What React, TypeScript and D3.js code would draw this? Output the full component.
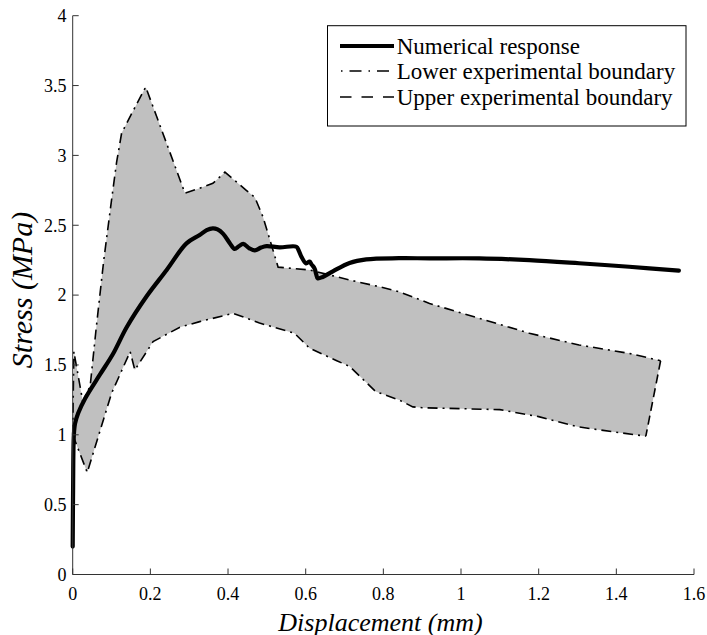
import React from "react";
import * as d3 from "d3";

// Numerical response (displacement mm, stress MPa)
const numX = [0, 0.001, 0.003, 0.006, 0.014, 0.032, 0.07, 0.104, 0.139, 0.19, 0.242, 0.293, 0.327, 0.345, 0.361, 0.373, 0.387, 0.405, 0.417, 0.428, 0.439, 0.455, 0.469, 0.485, 0.499, 0.533, 0.576, 0.582, 0.589, 0.601, 0.61, 0.615, 0.623, 0.627, 0.631, 0.644, 0.67, 0.713, 0.756, 0.84, 0.919, 1.047, 1.176, 1.304, 1.433, 1.561];
const numY = [0.2, 0.6, 1.0, 1.08, 1.154, 1.26, 1.43, 1.58, 1.77, 1.99, 2.18, 2.37, 2.43, 2.465, 2.478, 2.47, 2.44, 2.37, 2.33, 2.35, 2.366, 2.335, 2.32, 2.34, 2.35, 2.342, 2.346, 2.32, 2.275, 2.227, 2.24, 2.22, 2.19, 2.15, 2.12, 2.13, 2.17, 2.23, 2.256, 2.264, 2.263, 2.263, 2.25, 2.228, 2.203, 2.175];

// Upper experimental boundary
const upX = [0, 0.003, 0.026, 0.045, 0.06, 0.08, 0.1, 0.113, 0.126, 0.152, 0.188, 0.216, 0.289, 0.327, 0.361, 0.392, 0.447, 0.469, 0.49, 0.529, 0.61, 0.713, 0.79, 0.841, 0.919, 1.047, 1.176, 1.304, 1.433, 1.514];
const upY = [1.0, 1.595, 1.237, 1.35, 1.75, 2.25, 2.68, 2.95, 3.16, 3.3, 3.49, 3.28, 2.73, 2.765, 2.8, 2.88, 2.75, 2.7, 2.56, 2.2, 2.18, 2.108, 2.06, 2.024, 1.94, 1.834, 1.727, 1.643, 1.583, 1.53];

// Lower experimental boundary
const loX = [0, 0.0375, 0.1, 0.148, 0.16, 0.207, 0.276, 0.327, 0.413, 0.481, 0.571, 0.61, 0.68, 0.713, 0.78, 0.841, 0.876, 0.9, 1.1, 1.2, 1.3, 1.39, 1.476];
const loY = [1.0, 0.73, 1.297, 1.595, 1.464, 1.667, 1.77, 1.81, 1.87, 1.8, 1.727, 1.62, 1.53, 1.49, 1.31, 1.249, 1.2, 1.194, 1.18, 1.13, 1.058, 1.022, 0.99];

const xTicks = [0, 0.2, 0.4, 0.6, 0.8, 1, 1.2, 1.4, 1.6];
const yTicks = [0, 0.5, 1, 1.5, 2, 2.5, 3, 3.5, 4];
const legendLabels = ["Numerical response", "Lower experimental boundary", "Upper experimental boundary"];

const FONT = "'Liberation Serif', 'Times New Roman', serif";

export default function App() {
  const W = 707, H = 635;
  const x = d3.scaleLinear().domain([0, 1.6]).range([72.7, 694]);
  const y = d3.scaleLinear().domain([0, 4]).range([574.5, 15.7]);

  const num = numX.map((v, i) => [v, numY[i]] as [number, number]);
  const up = upX.map((v, i) => [v, upY[i]] as [number, number]);
  const lo = loX.map((v, i) => [v, loY[i]] as [number, number]);
  const poly = [...up, ...lo.slice().reverse()];

  const line = d3.line<[number, number]>().x(d => x(d[0])).y(d => y(d[1]));
  const smooth = d3.line<[number, number]>().x(d => x(d[0])).y(d => y(d[1])).curve(d3.curveCatmullRom.alpha(0.5));

  const dashDot = "10,5,2,5";
  const axisColor = "#333";

  const lx = 327.5, ly = 25.7, lw = 358.5, lh = 100.3;
  const rows = [46, 71, 97];
  const bases = [53.5, 79, 104.5];

  return (
    <svg width={W} height={H} style={{ position: "absolute", left: 0, top: 0, background: "#fff" }}>
      <rect x={0} y={0} width={W} height={H} fill="#fff" />
      {/* band */}
      <path d={line(poly) + "Z"} fill="#c0c0c0" stroke="none" />
      <path d={line(up) || ""} fill="none" stroke="#000" strokeWidth={1.6} strokeDasharray={dashDot} />
      <path d={line([up[up.length - 1], lo[lo.length - 1]]) || ""} fill="none" stroke="#000" strokeWidth={1.6} strokeDasharray="9,5" />
      <path d={line(lo) || ""} fill="none" stroke="#000" strokeWidth={1.6} strokeDasharray={dashDot} />
      {/* numerical */}
      <path d={smooth(num) || ""} fill="none" stroke="#000" strokeWidth={4.2} strokeLinejoin="round" strokeLinecap="round" />

      {/* axes */}
      <line x1={x(0)} x2={x(1.6)} y1={y(0)} y2={y(0)} stroke={axisColor} strokeWidth={1} />
      <line x1={x(0)} x2={x(0)} y1={y(0)} y2={y(4)} stroke={axisColor} strokeWidth={1} />
      {xTicks.map(t => (
        <g key={"x" + t}>
          <line x1={x(t)} x2={x(t)} y1={y(0)} y2={y(0) - 6} stroke={axisColor} />
          <text x={x(t)} y={600} textAnchor="middle" fontFamily={FONT} fontSize={18} fill="#000">{String(t)}</text>
        </g>
      ))}
      {yTicks.map(t => (
        <g key={"y" + t}>
          <line x1={x(0)} x2={x(0) + 6} y1={y(t)} y2={y(t)} stroke={axisColor} />
          <text x={66.5} y={y(t)} dy="0.35em" textAnchor="end" fontFamily={FONT} fontSize={18} fill="#000">{String(t)}</text>
        </g>
      ))}
      <text x={380.5} y={631} textAnchor="middle" fontFamily={FONT} fontStyle="italic" fontSize={26} fill="#000">Displacement (mm)</text>
      <text transform="translate(32,290) rotate(-90)" textAnchor="middle" fontFamily={FONT} fontStyle="italic" fontSize={30} fill="#000">Stress (MPa)</text>

      {/* legend */}
      <rect x={lx} y={ly} width={lw} height={lh} fill="#fff" stroke="#000" strokeWidth={1} />
      <line x1={340} x2={394} y1={rows[0]} y2={rows[0]} stroke="#000" strokeWidth={4} />
      <line x1={341} x2={394} y1={rows[1]} y2={rows[1]} stroke="#000" strokeWidth={1.6} strokeDasharray="1.5,7,12,7" />
      <line x1={340} x2={394} y1={rows[2]} y2={rows[2]} stroke="#000" strokeWidth={1.6} strokeDasharray="11.5,10" />
      {legendLabels.map((l, i) => (
        <text key={l} x={396.7} y={bases[i]} fontFamily={FONT} fontSize={23} fill="#000">{l}</text>
      ))}
    </svg>
  );
}
